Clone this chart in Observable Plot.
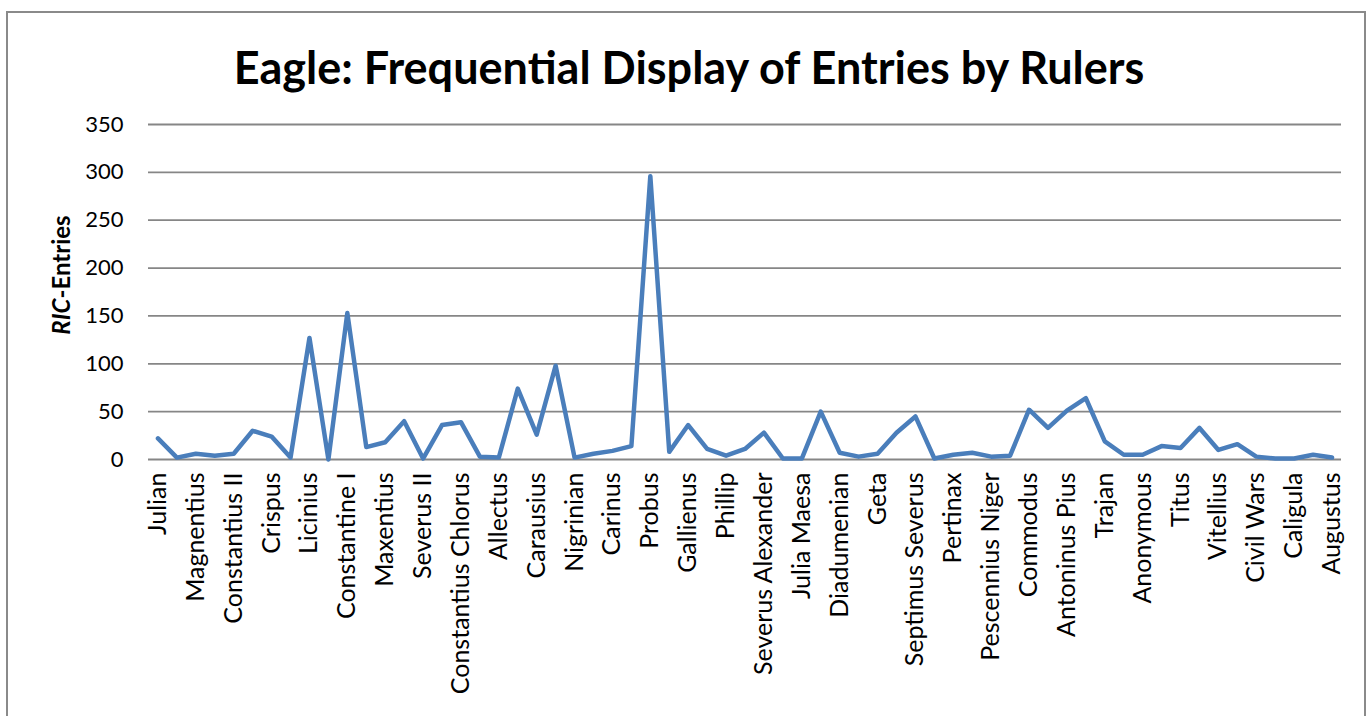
<!DOCTYPE html>
<html>
<head>
<meta charset="utf-8">
<script src="https://cdn.jsdelivr.net/npm/d3@7"></script>
<script src="https://cdn.jsdelivr.net/npm/@observablehq/plot@0.6"></script>
<style>
  html, body { margin: 0; padding: 0; background: #fff; overflow: hidden; }
  #wrap { position: relative; width: 1372px; height: 716px; overflow: hidden; font-family: Lato, "Open Sans", sans-serif; }
  #frame { position: absolute; left: 6px; top: 11px; width: 1360px; height: 760px; border: 2px solid #8a8a8a; box-sizing: border-box; }
  #title { position: absolute; left: 0; width: 1378px; top: 45px; line-height: 1; text-align: center; font-weight: bold; font-size: 45px; color: #000; }
  #ylab { position: absolute; left: 60px; top: 275px; transform: translate(-50%, -50%) rotate(-90deg); font-weight: bold; font-size: 24px; white-space: nowrap; color: #000; }
  #chart { position: absolute; left: 0; top: 0; }
</style>
</head>
<body>
<div id="wrap">
  <div id="frame"></div>
  <div id="chart"></div>
  <div id="title">Eagle: Frequential Display of Entries by Rulers</div>
  <div id="ylab"><i>RIC</i>-Entries</div>
</div>
<script>
const rulers = [
  "Julian", "Constantius Gallus", "Magnentius", "Constans", "Constantius II", "Constantine II",
  "Crispus", "Licinius II", "Licinius", "Maximinus II", "Constantine I", "Galerius",
  "Maxentius", "Maximianus", "Severus II", "Galeria Valeria", "Constantius Chlorus", "Diocletian",
  "Allectus", "Domitius Domitianus", "Carausius", "Numerian", "Nigrinian", "Magnia Urbica",
  "Carinus", "Carus", "Probus", "Aurelian", "Gallienus", "Valerian",
  "Phillip", "Gordian III", "Severus Alexander", "Elagabalus", "Julia Maesa", "Macrinus",
  "Diadumenian", "Caracalla", "Geta", "Julia Domna", "Septimus Severus", "Didius Julianus",
  "Pertinax", "Clodius Albinus", "Pescennius Niger", "Lucius Verus", "Commodus", "Marcus Aurelius",
  "Antoninus Pius", "Hadrian", "Trajan", "Nerva", "Anonymous", "Domitian",
  "Titus", "Vespasian", "Vitellius", "Galba", "Civil Wars", "Claudius",
  "Caligula", "Tiberius", "Augustus"
];
const entries = [
  22, 2, 6, 4, 6, 30,
  24, 2, 127, 0, 153, 13,
  18, 40, 1, 36, 39, 3,
  2, 74, 26, 98, 2, 6,
  9, 14, 296, 8, 36, 11,
  4, 11, 28, 1, 1, 50,
  7, 3, 6, 28, 45, 1,
  5, 7, 3, 4, 52, 33,
  51, 64, 19, 5, 5, 14,
  12, 33, 10, 16, 3, 1,
  1, 5, 2
];
const shownLabels = rulers.filter((d, i) => i % 2 === 0);
const yTicks = [0, 50, 100, 150, 200, 250, 300, 350];

const data = rulers.map((r, i) => ({ruler: r, value: entries[i]}));

const chart = Plot.plot({
  width: 1372,
  height: 716,
  marginLeft: 148,
  marginRight: 31,
  marginTop: 124,
  marginBottom: 257,
  style: { fontFamily: "Lato, 'Open Sans', sans-serif", fontSize: "22px", color: "#000", background: "transparent" },
  x: { type: "point", domain: rulers, padding: 0.5, label: null },
  y: { domain: [0, 350], label: null },
  marks: [
    Plot.ruleY(yTicks, { stroke: "#868686", strokeWidth: 1.8 }),
    Plot.ruleX([0], { frameAnchor: "left", y1: 0, y2: 350, stroke: "#868686", strokeWidth: 1.8 }),
    Plot.axisY({ ticks: yTicks, tickSize: 0, tickPadding: 25, label: null, fontSize: 22 }),
    Plot.axisX({ ticks: shownLabels, tickSize: 0, tickPadding: 13, tickRotate: -90, label: null, fontSize: 25 }),
    Plot.line(data, { x: "ruler", y: "value", stroke: "#4a7ebb", strokeWidth: 4.5, strokeLinejoin: "round", strokeLinecap: "round" })
  ]
});
document.getElementById("chart").appendChild(chart);
</script>
</body>
</html>
